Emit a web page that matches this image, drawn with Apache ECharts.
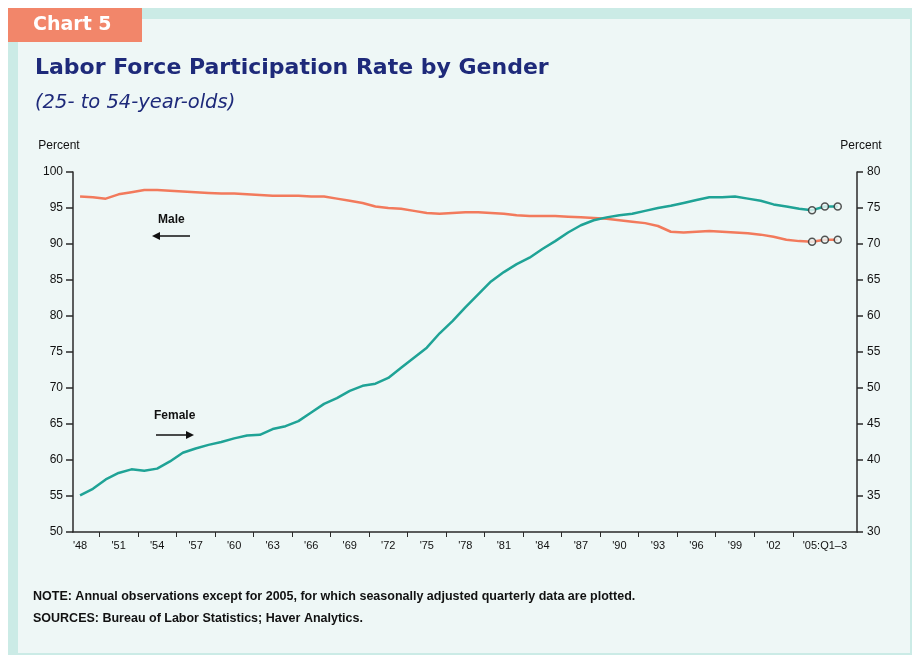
<!DOCTYPE html>
<html>
<head>
<meta charset="utf-8">
<script src="https://cdn.jsdelivr.net/npm/echarts@6/dist/echarts.min.js"></script>
<style>html,body{margin:0;padding:0;background:#fff;}#chart{width:917px;height:658px;}</style>
</head>
<body>
<div id="chart"></div>
<script>
// Periods: annual 1948-2004, then 2005 quarterly
const periods = ['1948','1949','1950','1951','1952','1953','1954','1955','1956','1957','1958','1959',
  '1960','1961','1962','1963','1964','1965','1966','1967','1968','1969','1970','1971','1972','1973',
  '1974','1975','1976','1977','1978','1979','1980','1981','1982','1983','1984','1985','1986','1987',
  '1988','1989','1990','1991','1992','1993','1994','1995','1996','1997','1998','1999','2000','2001',
  '2002','2003','2004','2005:Q1','2005:Q2','2005:Q3'];
// Male, percent (left axis)
const male = [96.6,96.5,96.3,96.9,97.2,97.5,97.5,97.4,97.3,97.2,97.1,97.0,
  97.0,96.9,96.8,96.7,96.7,96.7,96.6,96.6,96.3,96.0,95.7,95.2,95.0,94.9,
  94.6,94.3,94.2,94.3,94.4,94.4,94.3,94.2,94.0,93.9,93.9,93.9,93.8,93.7,
  93.6,93.5,93.3,93.1,92.9,92.5,91.7,91.6,91.7,91.8,91.7,91.6,91.5,91.3,
  91.0,90.6,90.4,90.3,90.6,90.6];
// Female, percent (right axis)
const female = [35.1,36.0,37.3,38.2,38.7,38.5,38.8,39.8,41.0,41.6,42.1,42.5,
  43.0,43.4,43.5,44.3,44.7,45.4,46.6,47.8,48.6,49.6,50.3,50.6,51.4,52.8,
  54.2,55.6,57.6,59.3,61.2,63.0,64.8,66.1,67.2,68.1,69.3,70.4,71.6,72.6,
  73.3,73.7,74.0,74.2,74.6,75.0,75.3,75.7,76.1,76.5,76.5,76.6,76.3,76.0,
  75.5,75.2,74.9,74.7,75.2,75.2];
// X tick labels and which period index they sit under
const tickLabels = ["'48","'51","'54","'57","'60","'63","'66","'69","'72","'75","'78","'81",
  "'84","'87","'90","'93","'96","'99","'02","'05:Q1–3"];
const tickLabelPos = [0,3,6,9,12,15,18,21,24,27,30,33,36,39,42,45,48,51,54,58];
const minorTickPos = [1.5,4.5,7.5,10.5,13.5,16.5,19.5,22.5,25.5,28.5,31.5,34.5,37.5,40.5,43.5,46.5,49.5,52.5,55.5];
const leftTicks = [50,100,5];   // min, max, step
const rightTicks = [30,80,5];
const quarterStart = 57;

const chart = echarts.init(document.getElementById('chart'), null, {renderer:'canvas'});
const MALE_C = '#f27a5c', FEMALE_C = '#1fa396';
const axisFont = "'Liberation Sans', Arial, sans-serif";
const TXT = '#111111';

const maleData = periods.map((p,i)=>[i, male[i]]);
const femaleData = periods.map((p,i)=>[i, female[i]]);
const maleQ = maleData.slice(quarterStart);
const femaleQ = femaleData.slice(quarterStart);

const labelMap = {};
tickLabelPos.forEach((v,i)=>{ labelMap[v] = tickLabels[i]; });

const option = {
  backgroundColor: '#ffffff',
  animation: false,
  graphic: [
    {type:'rect', z:-10, shape:{x:8,y:8,width:904,height:647}, style:{fill:'#eef7f6'}},
    {type:'rect', z:-9, shape:{x:140,y:8,width:772,height:11}, style:{fill:'#cbebe6'}},
    {type:'rect', z:-9, shape:{x:8,y:40,width:10,height:615}, style:{fill:'#cbebe6'}},
    {type:'rect', z:-9, shape:{x:910,y:8,width:2,height:647}, style:{fill:'#cbebe6'}},
    {type:'rect', z:-9, shape:{x:8,y:653,width:904,height:2}, style:{fill:'#cbebe6'}},
    {type:'rect', z:-8, shape:{x:8,y:8,width:134,height:34}, style:{fill:'#f2866a'}},
    {type:'text', x:33, y:25, style:{text:'Chart 5', fill:'#ffffff', font:"bold 19px 'DejaVu Sans', sans-serif", textVerticalAlign:'middle'}},
    {type:'text', x:35, y:68, style:{text:'Labor Force Participation Rate by Gender', fill:'#1e2a7a', font:"bold 22px 'DejaVu Sans', sans-serif", textVerticalAlign:'middle'}},
    {type:'text', x:35, y:103, style:{text:'(25- to 54-year-olds)', fill:'#1e2a7a', font:"oblique 19.5px 'DejaVu Sans', sans-serif", textVerticalAlign:'middle'}},
    {type:'text', x:158, y:220, style:{text:'Male', fill:TXT, font:"bold 12px "+axisFont, textVerticalAlign:'middle'}},
    {type:'line', shape:{x1:158,y1:236,x2:190,y2:236}, style:{stroke:TXT, lineWidth:1.5}},
    {type:'polygon', shape:{points:[[152,236],[160,232],[160,240]]}, style:{fill:TXT}},
    {type:'text', x:154, y:416, style:{text:'Female', fill:TXT, font:"bold 12px "+axisFont, textVerticalAlign:'middle'}},
    {type:'line', shape:{x1:156,y1:435,x2:188,y2:435}, style:{stroke:TXT, lineWidth:1.5}},
    {type:'polygon', shape:{points:[[194,435],[186,431],[186,439]]}, style:{fill:TXT}},
    {type:'text', x:33, y:597, style:{text:'NOTE: Annual observations except for 2005, for which seasonally adjusted quarterly data are plotted.', fill:TXT, font:"bold 12.5px "+axisFont, textVerticalAlign:'middle'}},
    {type:'text', x:33, y:619, style:{text:'SOURCES: Bureau of Labor Statistics; Haver Analytics.', fill:TXT, font:"bold 12.5px "+axisFont, textVerticalAlign:'middle'}}
  ],
  grid: {left:73, right:60, top:172, bottom:126, containLabel:false},
  xAxis: {
    type:'value', min:-0.55, max:60.5,
    splitLine:{show:false},
    axisLine:{show:true, onZero:false, lineStyle:{color:'#2a2a2a', width:1.5}},
    axisTick:{show:true, customValues:minorTickPos, length:5, lineStyle:{color:'#2a2a2a', width:1}},
    axisLabel:{show:true, customValues:tickLabelPos, margin:8, color:TXT, fontFamily:axisFont, fontSize:11,
      formatter:(v)=> labelMap[v] !== undefined ? labelMap[v] : ''}
  },
  yAxis: [
    {type:'value', position:'left', min:leftTicks[0], max:leftTicks[1], interval:leftTicks[2],
      name:'Percent', nameLocation:'end', nameGap:20,
      nameTextStyle:{color:TXT, fontFamily:axisFont, fontSize:12, padding:[0,28,0,0]},
      splitLine:{show:false},
      axisLine:{show:true, onZero:false, lineStyle:{color:'#2a2a2a', width:1.5}},
      axisTick:{show:true, length:7, lineStyle:{color:'#2a2a2a', width:1.5}},
      axisLabel:{margin:10, color:TXT, fontFamily:axisFont, fontSize:12}},
    {type:'value', position:'right', min:rightTicks[0], max:rightTicks[1], interval:rightTicks[2],
      name:'Percent', nameLocation:'end', nameGap:20,
      nameTextStyle:{color:TXT, fontFamily:axisFont, fontSize:12, padding:[0,0,0,8]},
      splitLine:{show:false},
      axisLine:{show:true, onZero:false, lineStyle:{color:'#2a2a2a', width:1.5}},
      axisTick:{show:true, length:6, lineStyle:{color:'#2a2a2a', width:1.5}},
      axisLabel:{margin:10, color:TXT, fontFamily:axisFont, fontSize:12}}
  ],
  series: [
    {name:'Male', type:'line', yAxisIndex:0, data:maleData, showSymbol:false, symbol:'none',
      lineStyle:{color:MALE_C, width:2.5}, itemStyle:{color:MALE_C}, z:3},
    {name:'Female', type:'line', yAxisIndex:1, data:femaleData, showSymbol:false, symbol:'none',
      lineStyle:{color:FEMALE_C, width:2.5}, itemStyle:{color:FEMALE_C}, z:3},
    {name:'Male 2005 quarterly', type:'scatter', yAxisIndex:0, data:maleQ, symbol:'circle', symbolSize:7,
      itemStyle:{color:'#eef7f6', borderColor:'#2a2a2a', borderWidth:1.5}, z:4},
    {name:'Female 2005 quarterly', type:'scatter', yAxisIndex:1, data:femaleQ, symbol:'circle', symbolSize:7,
      itemStyle:{color:'#eef7f6', borderColor:'#2a2a2a', borderWidth:1.5}, z:4}
  ]
};
chart.setOption(option);
</script>
</body>
</html>
